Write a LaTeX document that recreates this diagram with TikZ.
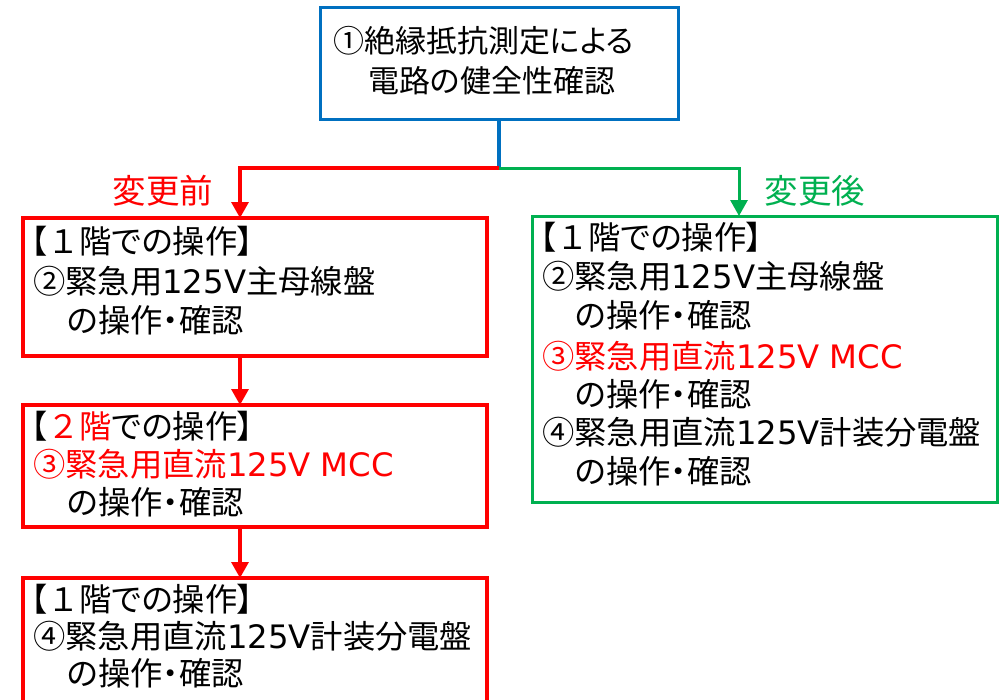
\documentclass[tikz,border=0pt]{standalone}
\usepackage{fontspec}
\setmainfont{DejaVu Sans}
\newfontfamily\jp[RawFeature=+palt]{Noto Sans CJK JP}
\newfontfamily\jpf{Noto Sans CJK JP}
\newfontfamily\lat{DejaVu Sans}
\usetikzlibrary{arrows.meta}
\definecolor{cred}{RGB}{255,0,0}
\definecolor{cgreen}{RGB}{0,176,80}
\definecolor{cblue}{RGB}{0,112,192}
\begin{document}
\begin{tikzpicture}[x=1pt,y=-1pt,
  box/.style={draw, line width=3.2pt, inner sep=0pt, outer sep=0pt, rectangle},
  txt/.style={anchor=base west, inner sep=0pt, font=\fontsize{32.3}{39}\selectfont\jp},
  toptxt/.style={anchor=base west, inner sep=0pt, font=\fontsize{31}{39}\selectfont\jp},
  lbl/.style={anchor=base, inner sep=0pt, font=\fontsize{33.5}{39}\selectfont\jp},
  conn/.style={line width=3.2pt},
  tip/.style={-{Triangle[width=17pt,length=16pt]}}]
\clip (0,0) rectangle (1000,699);
\useasboundingbox (0,0) rectangle (1000,699);
% boxes
\node[box, draw=cblue, line width=3pt, minimum width=358pt, minimum height=112pt] (top) at (499,63) {};
\node[box, draw=cred, minimum width=464pt, minimum height=138pt] (b1) at (255,287) {};
\node[box, draw=cred, minimum width=464pt, minimum height=122pt] (b2) at (255,466) {};
\node[box, draw=cred, minimum width=464pt, minimum height=150pt] (b3) at (255,653) {};
\node[box, draw=cgreen, line width=3pt, minimum width=465pt, minimum height=286pt] (g) at (764.5,359) {};
% junctions
\coordinate (junc) at (499,168);
\coordinate (jl) at (240,168);
\coordinate (jr) at (739,168);
% connectors
\draw[conn, cblue] (top.south) -- (junc);
\draw[conn, cred, tip] (junc) -| (jl |- b1.north);
\draw[conn, cgreen, tip, line width=3pt] (junc) -| (jr |- g.north);
\draw[conn, cred, tip] (jl |- b1.south) -- (jl |- b2.north);
\draw[conn, cred, tip] (jl |- b2.south) -- (jl |- b3.north);
% labels
\node[lbl, text=cred] (lblbefore) at (163,203) {変更前};
\node[lbl, text=cgreen] (lblafter) at (815,203) {変更後};
% top text
\node[toptxt] (t1) at (333,52) {①絶縁抵抗測定による};
\node[toptxt] (t2) at (368,92) {電路の健全性確認};
% box 1
\node[txt] (b1a) at (31,253) {【{\jpf １}階での操作】};
\node[txt] (b1b) at (33,293) {②緊急用{\lat 125V}主母線盤};
\node[txt] (b1c) at (67,332) {の操作・確認};
% box 2
\node[txt] (b2a) at (31,438) {【\textcolor{cred}{{\jpf ２}階}での操作】};
\node[txt, text=cred] (b2b) at (33,476) {③緊急用直流{\lat 125V MCC}};
\node[txt] (b2c) at (67,514) {の操作・確認};
% box 3
\node[txt] (b3a) at (31,611) {【{\jpf １}階での操作】};
\node[txt] (b3b) at (33,648) {④緊急用直流{\lat 125V}計装分電盤};
\node[txt] (b3c) at (67,685) {の操作・確認};
% green box
\node[txt] (g1) at (540,249) {【{\jpf １}階での操作】};
\node[txt] (g2) at (542,288) {②緊急用{\lat 125V}主母線盤};
\node[txt] (g3) at (575,327) {の操作・確認};
\node[txt, text=cred] (g4) at (542,368) {③緊急用直流{\lat 125V MCC}};
\node[txt] (g5) at (575,406) {の操作・確認};
\node[txt] (g6) at (542,444) {④緊急用直流{\lat 125V}計装分電盤};
\node[txt] (g7) at (575,483) {の操作・確認};
\end{tikzpicture}
\end{document}
